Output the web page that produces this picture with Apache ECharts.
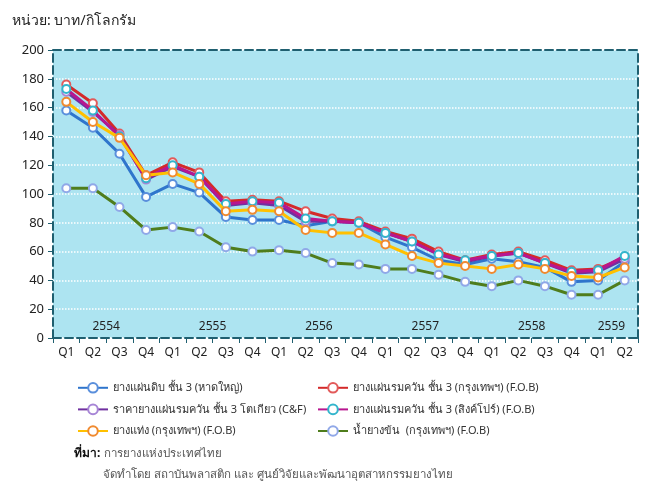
<!DOCTYPE html>
<html>
<head>
<meta charset="utf-8">
<script src="https://cdn.jsdelivr.net/npm/echarts@6/dist/echarts.min.js"></script>
<style>
  html, body { margin: 0; padding: 0; background: #fff; }
  #chart-container { width: 645px; height: 495px; }
</style>
</head>
<body>
<div id="chart-container"></div>
<script>
var dom = document.getElementById("chart-container");
var myChart = echarts.init(dom, null, { renderer: "canvas" });

var quarters = ["Q1", "Q2", "Q3", "Q4", "Q1", "Q2", "Q3", "Q4", "Q1", "Q2", "Q3",
  "Q4", "Q1", "Q2", "Q3", "Q4", "Q1", "Q2", "Q3", "Q4", "Q1", "Q2"];
var years = ["2554", "2555", "2556", "2557", "2558", "2559"];
// centre of each year's quarters, in category units
var yearPos = [2, 6, 10, 14, 18, 21];

var names = [
  "ยางแผ่นดิบ ชั้น 3 (หาดใหญ่)",
  "ยางแผ่นรมควัน ชั้น 3 (กรุงเทพฯ) (F.O.B)",
  "ราคายางแผ่นรมควัน ชั้น 3 โตเกียว (C&F)",
  "ยางแผ่นรมควัน ชั้น 3 (สิงค์โปร์) (F.O.B)",
  "ยางแท่ง (กรุงเทพฯ) (F.O.B)",
  "น้ำยางข้น  (กรุงเทพฯ) (F.O.B)"
];

var hatyai = [158, 146, 128, 98, 107, 101, 84, 82, 82, 78, 81, 80, 70, 63, 54, 51, 55, 53, 49, 39, 40, 53];
var rss3Bkk = [176, 163, 142, 113, 122, 115, 95, 96, 95, 88, 83, 81, 74, 69, 60, 54, 58, 60, 54, 47, 48, 56];
var rss3Tokyo = [171, 157, 141, 110, 119, 112, 92, 94, 92, 81, 81, 80, 73, 67, 58, 53, 57, 59, 52, 45, 46, 55];
var rss3Sing = [173, 158, 140, 111, 120, 112, 93, 95, 94, 83, 81, 80, 73, 67, 58, 54, 57, 59, 52, 46, 47, 57];
var strBkk = [164, 150, 139, 113, 115, 107, 88, 89, 88, 75, 73, 73, 65, 57, 52, 50, 48, 51, 48, 43, 42, 49];
var latexBkk = [104, 104, 91, 75, 77, 74, 63, 60, 61, 59, 52, 51, 48, 48, 44, 39, 36, 40, 36, 30, 30, 40];

var seriesData = [hatyai, rss3Bkk, rss3Tokyo, rss3Sing, strBkk, latexBkk];
var lineColors = ["#2f75cc", "#d42a2a", "#7030a0", "#b8168f", "#ffc000", "#4f7d1c"];
var dotColors = ["#5a8fdc", "#e25a5a", "#a785d6", "#33b5cc", "#f08a30", "#90a8e8"];

var axisDark = "#1f5f70";
var font = "Tahoma, 'Noto Sans', sans-serif";

var series = names.map(function (n, i) {
  return {
    name: n,
    type: "line",
    xAxisIndex: 0,
    yAxisIndex: 0,
    data: seriesData[i],
    color: lineColors[i],
    symbol: "circle",
    symbolSize: 8,
    showAllSymbol: true,
    lineStyle: { color: lineColors[i], width: 3 },
    itemStyle: { color: "#fff", borderColor: dotColors[i], borderWidth: 2 },
    z: 2 + i
  };
});

var legendText = { fontSize: 11, color: "#333", fontFamily: font };

var option = {
  animation: false,
  textStyle: { fontFamily: font },
  grid: {
    left: 53, right: 7, top: 50, bottom: 157,
    show: true, backgroundColor: "#ade4f1", borderWidth: 0
  },
  legend: [
    {
      data: [names[0], names[2], names[4]],
      orient: "vertical", left: 72, top: 377, itemGap: 10,
      itemWidth: 30, itemHeight: 12, textStyle: legendText
    },
    {
      data: [names[1], names[3], names[5]],
      orient: "vertical", left: 312, top: 377, itemGap: 10,
      itemWidth: 30, itemHeight: 12, textStyle: legendText
    }
  ],
  xAxis: [
    {
      type: "category",
      data: quarters,
      boundaryGap: true,
      axisLine: { lineStyle: { color: axisDark, width: 2, type: "dashed" } },
      axisTick: { show: true, interval: 0, length: 5, lineStyle: { color: axisDark, width: 1 } },
      axisLabel: { color: "#222", fontSize: 12, margin: 9, interval: 0 },
      splitLine: { show: false }
    },
    {
      // year labels written inside the plot
      type: "value",
      min: 0, max: quarters.length, interval: 1,
      position: "bottom",
      axisLine: { show: false },
      axisTick: { show: false },
      splitLine: { show: false },
      axisLabel: {
        inside: true, margin: 5, color: "#222", fontSize: 12,
        showMinLabel: true, showMaxLabel: true,
        formatter: function (v) {
          var k = yearPos.indexOf(Math.round(v));
          return k >= 0 ? years[k] : "";
        }
      }
    },
    {
      type: "category",
      data: quarters,
      position: "top",
      axisLine: { lineStyle: { color: axisDark, width: 2, type: "dashed" } },
      axisTick: { show: false },
      axisLabel: { show: false }
    }
  ],
  yAxis: [
    {
      type: "value",
      min: 0, max: 200, interval: 20,
      axisLine: { show: true, lineStyle: { color: axisDark, width: 2, type: "dashed" } },
      axisTick: { show: true, length: 5, lineStyle: { color: axisDark, width: 1 } },
      axisLabel: { color: "#222", fontSize: 13, margin: 9 },
      splitLine: { show: true, lineStyle: { color: "#ffffff", width: 1.5, type: "dotted" } }
    },
    {
      type: "value",
      min: 0, max: 200, interval: 20,
      position: "right",
      axisLine: { show: true, lineStyle: { color: axisDark, width: 2, type: "dashed" } },
      axisTick: { show: false },
      axisLabel: { show: false },
      splitLine: { show: false }
    }
  ],
  graphic: [
    {
      type: "text", left: 12, top: 14,
      style: { text: "หน่วย: บาท/กิโลกรัม", fontSize: 14, fill: "#222", fontFamily: font }
    },
    {
      type: "text", left: 74, top: 448,
      style: { text: "ที่มา:", fontSize: 12, fontWeight: "bold", fill: "#111", fontFamily: font }
    },
    {
      type: "text", left: 104, top: 448,
      style: { text: "การยางแห่งประเทศไทย", fontSize: 11.5, fill: "#555", fontFamily: font }
    },
    {
      type: "text", left: 103, top: 469,
      style: { text: "จัดทำโดย สถาบันพลาสติก และ ศูนย์วิจัยและพัฒนาอุตสาหกรรมยางไทย", fontSize: 11.5, fill: "#555", fontFamily: font }
    }
  ],
  series: series
};

myChart.setOption(option);

window.addEventListener("resize", function () {
  myChart.resize();
});
</script>
</body>
</html>
